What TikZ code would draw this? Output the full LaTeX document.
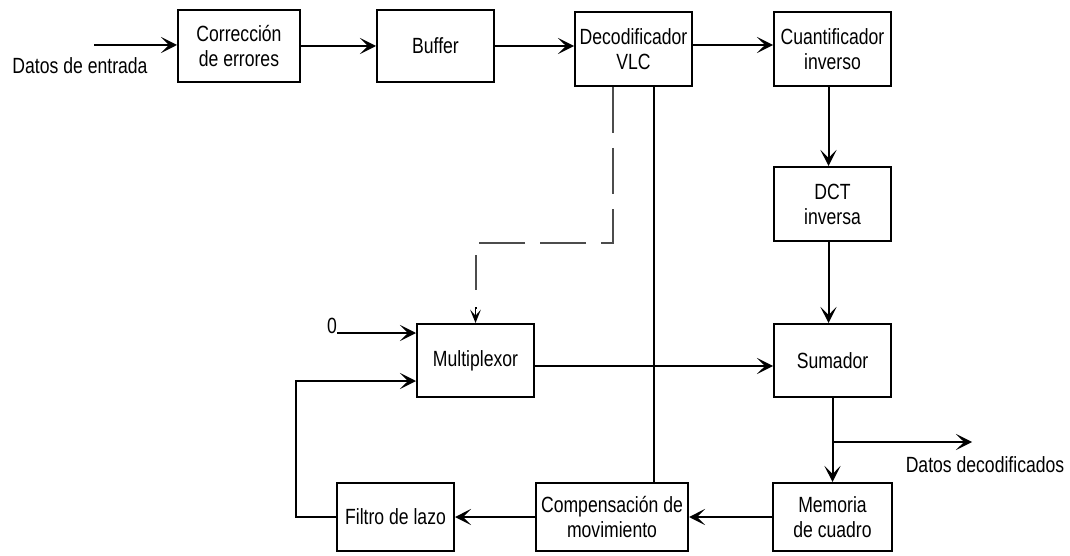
\documentclass[tikz,border=0pt]{standalone}
\usepackage{fontspec}
\setmainfont{Liberation Sans}[FakeStretch=0.8]
\usetikzlibrary{arrows.meta,calc}
\begin{document}
\begin{tikzpicture}[
  x=0.75pt, y=-0.75pt,
  txt/.style={font=\fontsize{16.5pt}{18.75pt}\selectfont, align=center, inner sep=0pt},
  blk/.style 2 args={txt, draw, line width=1.5pt, minimum width=#1*0.75pt, minimum height=#2*0.75pt},
  line/.style={line width=1.5pt},
  arr/.style={line, -{Stealth[length=12pt, width=12pt, inset=6pt]}},
  ctrl/.style={line width=1.1pt, draw=black!70, dash pattern=on 34.5pt off 11.25pt},
  ctrltip/.style={line width=1.1pt, -{Stealth[length=10pt, width=8pt, inset=4.5pt]}}
]
\useasboundingbox (0,0) rectangle (1070,556);

% processing blocks
\node[blk={122}{72}] (corr) at (239,46) {Corrección\\de errores};
\node[blk={117}{72}] (buf) at (435.5,46) {Buffer};
\node[blk={117}{74}] (dec) at (633.5,49) {Decodificador\\VLC};
\node[blk={117}{74}] (cuant) at (832.5,49) {Cuantificador\\inverso};
\node[blk={117}{74}] (dct) at (832.5,204) {DCT\\inversa};
\node[blk={117}{73}] (sum) at (832.5,360.5) {Sumador};
\node[blk={117}{73}] (mux) at (475.5,360.5) {Multiplexor};
\node[blk={117}{68}] (filt) at (395.5,517) {Filtro de lazo};
\node[blk={152}{68}] (comp) at (612,517) {Compensación de\\movimiento};
\node[blk={119}{68}] (mem) at (832.5,517) {Memoria\\de cuadro};

% free ends and bend points
\coordinate (inS) at (94,45);
\coordinate (zin) at (337,333);
\coordinate (lp) at (296,381);
\coordinate (hm) at (0,366);
\coordinate (vl) at (654,0);
\coordinate (dsh) at (613,243);
\coordinate (dend) at (476,290);
\coordinate (dtip) at (476,308);
\coordinate (br) at (833,442);
\coordinate (outE) at (972,442);

% labels
\node[txt] (lin) at (80,66) {Datos de entrada};
\node[txt] (lout) at (985,465) {Datos decodificados};
\node[txt] (lzero) at (332,326) {0};

% main data path
\draw[arr] (inS) -- (inS -| corr.west);
\draw[arr] (corr.east) -- (buf.west);
\draw[arr] (buf.east) -- (buf.east -| dec.west);
\draw[arr] ([yshift=3pt]dec.east) -- ([yshift=3pt]cuant.west);
\draw[arr] ([xshift=-3pt]cuant.south) -- ([xshift=-3pt]dct.north);
\draw[arr] ([xshift=-3pt]dct.south) -- ([xshift=-3pt]sum.north);
\draw[arr] (sum.south) -- (mem.north);
\draw[arr] (sum.south |- br) -- (outE);
\draw[arr] (mem.west) -- (comp.east);
\draw[arr] (comp.west) -- (filt.east);

% feedback loop into the multiplexer
\draw[arr] (filt.west) -- (filt.west -| lp) -- (lp) -- (lp -| mux.west);
\draw[arr] (zin) -- (zin -| mux.west);
\draw[arr] (mux.east |- hm) -- (sum.west |- hm);

% motion vectors from the VLC decoder
\draw[line] (dec.south -| vl) -- (comp.north -| vl);

% control signal to the multiplexer
\draw[ctrl] (dec.south -| dsh) -- (dsh) -- (dsh -| dend) -- (dend);
\draw[ctrltip] (dtip) -- (mux.north |- dtip) -- (mux.north);
\end{tikzpicture}
\end{document}
